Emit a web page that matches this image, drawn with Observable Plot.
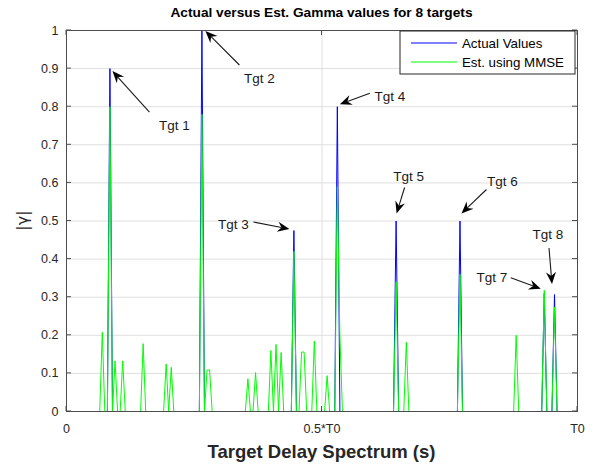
<!DOCTYPE html>
<html><head><meta charset="utf-8">
<script src="https://cdn.jsdelivr.net/npm/d3@7"></script>
<script src="https://cdn.jsdelivr.net/npm/@observablehq/plot@0.6"></script>
<style>
body{margin:0;background:#fff;}
#chart{width:597px;height:464px;}
</style>
</head><body><div id="chart"></div>
<script>
// ---- data ----
const N = 200; // delay bins spanning 0..T0
const tgtLabels = ["Tgt 1","Tgt 2","Tgt 3","Tgt 4","Tgt 5","Tgt 6","Tgt 7","Tgt 8"];
const tgtIdx    = [17, 53, 89, 106, 129, 154, 187, 191];
const tgtActual = [0.90, 1.00, 0.475, 0.80, 0.50, 0.50, 0.31, 0.307];
const estIdx = [14, 17, 19, 22, 30, 39, 41, 53, 55, 56, 71, 74, 80, 82, 84, 89, 92, 93, 97, 102, 106, 107, 129, 133, 154, 176, 187, 191];
const estVal = [0.208, 0.80, 0.133, 0.133, 0.178, 0.125, 0.116, 0.78, 0.109, 0.109, 0.086, 0.102, 0.16, 0.176, 0.155, 0.42, 0.156, 0.156, 0.185, 0.094, 0.59, 0.20, 0.34, 0.182, 0.36, 0.20, 0.318, 0.274];
const yTicks = [0, 0.1, 0.2, 0.3, 0.4, 0.5, 0.6, 0.7, 0.8, 0.9, 1];
const xTicks = [0, 0.5, 1];
const xTickLabels = ["0", "0.5*T0", "T0"];
const seriesNames = ["Actual Values", "Est. using MMSE"];

// ---- build full sparse series over the bin grid ----
function series(idx, val) {
  const m = new Map(idx.map((k, i) => [k, val[i]]));
  return d3.range(N + 1).map(i => ({x: i / N, y: m.get(i) ?? 0}));
}
const actual = series(tgtIdx, tgtActual);
const est = series(estIdx, estVal);

// ---- layout / style ----
const FONT = "'Liberation Sans', Arial, Helvetica, sans-serif";
const BLUE = "#0000ff", GREEN = "#00ff00";
// annotation offsets (px) relative to the target peak: tip, tail, text centre
const anno = [
  {tip:[3,3],   tail:[40,44],  text:[65,57]},
  {tip:[4,1],   tail:[38,35],  text:[58,48]},
  {tip:[-4,-1], tail:[-40,-8], text:[-60,-6]},
  {tip:[3,-2],  tail:[33,-13], text:[53,-10]},
  {tip:[1,-7],  tail:[9,-33],  text:[13,-44]},
  {tip:[2,-7],  tail:[27,-31], text:[43,-39]},
  {tip:[-3,-1], tail:[-33,-12],text:[-52,-13]},
  {tip:[-2,-10],tail:[-5,-46], text:[-6,-60]}
];

const chart = Plot.plot({
  width: 597, height: 464,
  marginLeft: 66, marginRight: 20, marginTop: 30, marginBottom: 53,
  x: {domain: [0, 1]},
  y: {domain: [0, 1]},
  style: {fontFamily: FONT, fontSize: "12.5px", color: "#262626", background: "#fff"},
  marks: [
    Plot.gridY(yTicks, {stroke: "#dfdfdf", strokeOpacity: 1}),
    Plot.gridX([0.5], {stroke: "#dfdfdf", strokeOpacity: 1}),
    Plot.axisY(yTicks, {tickSize: 0, tickPadding: 8, tickFormat: d => String(+d.toFixed(1)), label: null}),
    Plot.axisX(xTicks, {tickSize: 0, tickPadding: 13, tickFormat: (d, i) => xTickLabels[i], label: null}),
    Plot.line(actual, {x: "x", y: "y", stroke: BLUE, strokeWidth: 1}),
    Plot.line(est, {x: "x", y: "y", stroke: GREEN, strokeWidth: 1}),
    Plot.frame({stroke: "#4d4d4d", strokeWidth: 1})
  ]
});
document.getElementById("chart").appendChild(chart);

const sx = chart.scale("x"), sy = chart.scale("y");
const svg = d3.select(chart);
const X0 = sx.apply(0), X1 = sx.apply(1), Y0 = sy.apply(0), Y1 = sy.apply(1);

// inward ticks (both sides)
const tk = svg.append("g").attr("stroke", "#4d4d4d").attr("stroke-width", 1);
yTicks.forEach(v => {
  const y = sy.apply(v);
  tk.append("line").attr("x1", X0).attr("x2", X0 + 5).attr("y1", y).attr("y2", y);
  tk.append("line").attr("x1", X1 - 5).attr("x2", X1).attr("y1", y).attr("y2", y);
});
xTicks.forEach(v => {
  const x = sx.apply(v);
  tk.append("line").attr("x1", x).attr("x2", x).attr("y1", Y0).attr("y2", Y0 - 5);
  tk.append("line").attr("x1", x).attr("x2", x).attr("y1", Y1).attr("y2", Y1 + 5);
});

// title and axis labels
svg.append("text").attr("x", (X0 + X1) / 2).attr("y", 17).attr("text-anchor", "middle")
  .attr("font-family", FONT).attr("font-weight", "bold").attr("font-size", 13.7).attr("fill", "#000")
  .text("Actual versus Est. Gamma values for 8 targets");
svg.append("text").attr("x", (X0 + X1) / 2).attr("y", 458).attr("text-anchor", "middle")
  .attr("font-family", FONT).attr("font-weight", "bold").attr("font-size", 18.5).attr("fill", "#262626")
  .text("Target Delay Spectrum (s)");
svg.append("text").attr("transform", `translate(28,${(Y0 + Y1) / 2}) rotate(-90)`).attr("text-anchor", "middle")
  .attr("font-family", "'DejaVu Sans', sans-serif").attr("font-size", 16).attr("fill", "#262626")
  .text("|γ|");

// annotations
const ag = svg.append("g");
tgtIdx.forEach((k, i) => {
  const px = sx.apply(k / N);
  const py = sy.apply(Math.max(tgtActual[i], estVal[estIdx.indexOf(k)] ?? 0));
  const a = anno[i];
  const tx = px + a.tip[0], ty = py + a.tip[1];
  const bx = px + a.tail[0], by = py + a.tail[1];
  const ang = Math.atan2(ty - by, tx - bx);
  const L = 12, W = 5, notch = 8;
  const c = Math.cos(ang), s = Math.sin(ang);
  const pt = (u, v) => [tx + u * c - v * s, ty + u * s + v * c];
  const nb = pt(-notch, 0);
  ag.append("line").attr("x1", bx).attr("y1", by).attr("x2", nb[0]).attr("y2", nb[1])
    .attr("stroke", "#1a1a1a").attr("stroke-width", 1.1);
  const poly = [pt(0, 0), pt(-L, W), pt(-notch, 0), pt(-L, -W)];
  ag.append("path").attr("d", "M" + poly.map(p => p.join(",")).join("L") + "Z").attr("fill", "#000");
  ag.append("text").attr("x", px + a.text[0]).attr("y", py + a.text[1]).attr("dy", "0.35em")
    .attr("text-anchor", "middle").attr("font-family", FONT).attr("font-size", 13.5).attr("fill", "#1a1a1a")
    .text(tgtLabels[i]);
});

// legend
const lg = svg.append("g");
const LX = 400, LY = 31, LW = X1 - 2 - LX, LH = 43;
lg.append("rect").attr("x", LX).attr("y", LY).attr("width", LW).attr("height", LH)
  .attr("fill", "#fff").attr("stroke", "#262626").attr("stroke-width", 1);
[BLUE, GREEN].forEach((col, i) => {
  const y = LY + 12 + i * 19;
  lg.append("line").attr("x1", LX + 11).attr("x2", LX + 57).attr("y1", y).attr("y2", y)
    .attr("stroke", col).attr("stroke-width", 1);
  lg.append("text").attr("x", LX + 62).attr("y", y).attr("dy", "0.35em").attr("text-anchor", "start")
    .attr("font-family", FONT).attr("font-size", 13.3).attr("fill", "#000").text(seriesNames[i]);
});
</script>
</body></html>
